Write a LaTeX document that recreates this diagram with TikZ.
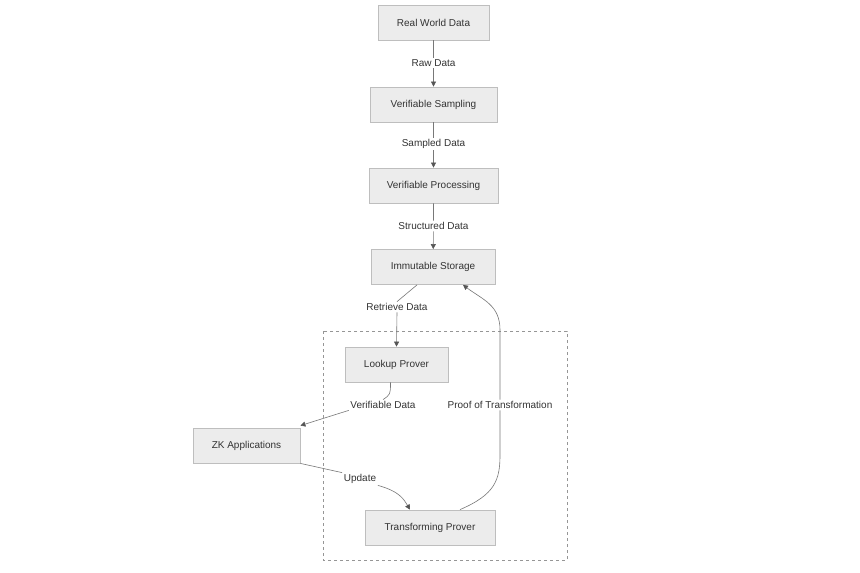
\documentclass[tikz,border=0pt]{standalone}
\usepackage{fontspec}
\setmainfont{Liberation Sans}
\usetikzlibrary{arrows.meta,positioning}
\definecolor{boxfill}{RGB}{236,236,236}
\definecolor{boxborder}{RGB}{190,190,190}
\definecolor{labelcolor}{RGB}{51,51,51}
\definecolor{arrowcolor}{RGB}{120,120,120}
\definecolor{tipcolor}{RGB}{85,85,85}
\definecolor{clustercolor}{RGB}{150,150,150}
\tikzset{
stagebox/.style={
  draw=boxborder,
  fill=boxfill,
  line width=0.8pt,
  minimum height=35pt,
  align=center,
  font=\fontsize{10}{12}\selectfont,
  text=labelcolor
},
edgelabel/.style={
  fill=white,
  inner sep=1.5pt,
  font=\fontsize{10}{12}\selectfont,
  text=labelcolor
},
arrow/.style={
  -{Triangle[length=5pt,width=5pt,color=tipcolor]},
  line width=0.6pt,
  draw=arrowcolor
},
cluster/.style={
  draw=clustercolor,
  dashed,
  line width=0.6pt
}
}

\begin{document}
\begin{tikzpicture}[x=1pt,y=-1pt]
  \useasboundingbox[fill=white] (0,0) rectangle (860,573);

  % Prover group
  \draw[cluster] (323,331) rectangle (567,560);

  % Pipeline stages
  \node[stagebox, minimum width=111pt] (real) at (433.5,22.5) {Real World Data};
  \node[stagebox, minimum width=127pt] (sampling) at (433.5,104.5) {Verifiable Sampling};
  \node[stagebox, minimum width=129pt] (processing) at (433.5,185.5) {Verifiable Processing};
  \node[stagebox, minimum width=124pt] (storage) at (433,267) {Immutable Storage};
  \node[stagebox, minimum width=103pt] (lookup) at (396.5,364.5) {Lookup Prover};
  \node[stagebox, minimum width=107pt] (zkapps) at (246.5,445.5) {ZK Applications};
  \node[stagebox, minimum width=130pt] (transform) at (430,527.5) {Transforming Prover};

  % Edge labels
  \node[edgelabel] (lraw) at (433.5,63) {Raw Data};
  \node[edgelabel] (lsampled) at (433.5,144) {Sampled Data};
  \node[edgelabel] (lstructured) at (433.5,226) {Structured Data};
  \node[edgelabel] (lretrieve) at (397,307) {Retrieve Data};
  \node[edgelabel] (lverifiable) at (383,405) {Verifiable Data};
  \node[edgelabel] (lproof) at (500,405) {Proof of Transformation};
  \node[edgelabel] (lupdate) at (360,479) {Update};

  % Bend points
  \coordinate (pbot) at (500,455);
  \coordinate (ptop) at (500,330);

  % Arrows
  \draw[arrow] (real) -- (lraw) -- (sampling);
  \draw[arrow] (sampling) -- (lsampled) -- (processing);
  \draw[arrow] (processing) -- (lstructured) -- (storage);
  \draw[arrow] ([xshift=-16pt]storage.south) -- (lretrieve.north) (lretrieve.south) -- (lookup.north);
  \draw[arrow] ([xshift=-6pt]lookup.south) .. controls +(0,12) .. (lverifiable.north) (lverifiable.south west) -- ([yshift=2pt]zkapps.north east);
  \draw[arrow] (zkapps.south east) -- (lupdate.north west) (lupdate.south east) .. controls +(22,6) and +(-6,-10) .. ([xshift=-20pt]transform.north);
  \draw[arrow] ([xshift=30pt]transform.north) .. controls +(35,-15) and +(0,25) .. (pbot) -- (lproof.south) (lproof.north) -- (ptop) .. controls +(0,-25) and +(20,15) .. ([xshift=30pt]storage.south);
\end{tikzpicture}
\end{document}
